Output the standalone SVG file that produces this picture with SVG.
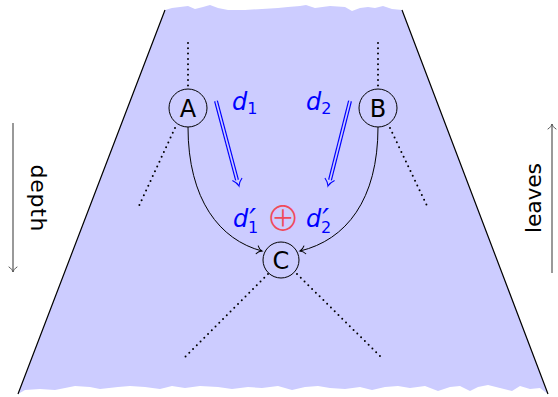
<svg xmlns="http://www.w3.org/2000/svg" width="558" height="397" viewBox="0 0 558 397">
<defs>
<marker id="to" markerUnits="userSpaceOnUse" orient="auto" refX="0" refY="0" markerWidth="12" markerHeight="12" viewBox="-8 -6 10 12" overflow="visible">
<path d="M-5,-4 C-3.5,-1.5 -1.5,-0.5 0,0 C-1.5,0.5 -3.5,1.5 -5,4" fill="none" stroke="#000" stroke-width="1" stroke-linecap="round"/>
</marker>
<marker id="tog" markerUnits="userSpaceOnUse" orient="auto" refX="0" refY="0" markerWidth="12" markerHeight="12" viewBox="-8 -6 10 12" overflow="visible">
<path d="M-5,-4 C-3.5,-1.5 -1.5,-0.5 0,0 C-1.5,0.5 -3.5,1.5 -5,4" fill="none" stroke="#555" stroke-width="1" stroke-linecap="round"/>
</marker>
</defs>
<style>
.node circle{fill:#ccccff;stroke:#000;stroke-width:1}
.node text{font-family:"DejaVu Sans",sans-serif;font-size:24px;text-anchor:middle;fill:#000}
.dot{fill:none;stroke:#000;stroke-width:2;stroke-linecap:round;stroke-dasharray:0 5.3}
.edge{fill:none;stroke:#000;stroke-width:1}
.lbl{font-family:"DejaVu Sans",sans-serif;font-style:italic;fill:#0000ff;font-size:24px}
.sub{font-style:normal;font-size:16px}
.pr{font-size:30px}
.dblo{fill:none;stroke:#0000ff;stroke-width:4}
.dbli{fill:none;stroke:#ccccff;stroke-width:1.6}
.side{font-family:"DejaVu Sans",sans-serif;font-size:22px;fill:#000;text-anchor:middle}
</style>
<rect width="558" height="397" fill="#fff"/>
<g id="tree">
<polygon fill="#ccccff" points="165,10 172,8 180,7 188,6 195,9 203,7 210,5 218,8 228,10 245,10 262,9 278,8 288,7 300,6 306,5 315,8 330,6 345,7 352,11 360,8 368,7 375,8 383,6 392,9 402,10 548,394 540,388 530,389 520,386 512,391 500,388 488,385 478,387 470,391 460,386 450,387 438,391 425,386 410,388 398,386 385,387 372,390 360,387 345,389 330,388 318,386 305,387 292,390 278,386 262,388 248,387 232,389 218,387 200,386 185,388 172,386 160,389 145,387 130,386 118,387 100,389 90,387 75,386 65,388 55,390 40,389 25,390 18,394"/>
<path d="M165,10 L18,394 M402,10 L548,394" stroke="#000" stroke-width="1.2" fill="none"/>
</g>
<g id="connectors">
<path class="dot" d="M188,43 L188,88"/>
<path class="dot" d="M378,43 L378,88"/>
<path class="dot" d="M175,128 L138,208"/>
<path class="dot" d="M390,128 L428,208"/>
<path class="dot" d="M268,274 L184,358"/>
<path class="dot" d="M297,274 L382,358"/>
<path class="edge" d="M188,127 C188,200 220,240 262,251" marker-end="url(#to)"/>
<path class="edge" d="M378,127 C378,200 346,240 300,251" marker-end="url(#to)"/>
<path class="dblo" d="M216,101 L237,180"/>
<path class="dbli" d="M216,101 L237,180"/>
<path class="dblo" d="M350,101 L330,180"/>
<path class="dbli" d="M350,101 L330,180"/>
<g transform="translate(239,186) rotate(75.3)"><path d="M-7,-5 C-4.5,-2 -2,-0.6 0,0 C-2,0.6 -4.5,2 -7,5" fill="none" stroke="#0000ff" stroke-width="1.1"/></g>
<g transform="translate(328,186) rotate(104.5)"><path d="M-7,-5 C-4.5,-2 -2,-0.6 0,0 C-2,0.6 -4.5,2 -7,5" fill="none" stroke="#0000ff" stroke-width="1.1"/></g>
<path d="M13,123 L13,272" stroke="#555" stroke-width="1.2" marker-end="url(#tog)"/>
<path d="M552,273 L552,124" stroke="#555" stroke-width="1.2" marker-end="url(#tog)"/>
</g>
<g id="A" class="node"><circle cx="188" cy="108" r="19"/><text x="188" y="117">A</text></g>
<g id="B" class="node"><circle cx="378" cy="108" r="19"/><text x="378" y="117">B</text></g>
<g id="C" class="node"><circle cx="281" cy="260" r="18"/><text x="281" y="269">C</text></g>
<g id="labels">
<text class="lbl" x="233" y="227">d<tspan class="pr" dx="1" dy="3">′</tspan><tspan class="sub" dx="-8" dy="3">1</tspan></text>
<text class="lbl" x="306" y="227">d<tspan class="pr" dx="1" dy="3">′</tspan><tspan class="sub" dx="-8" dy="3">2</tspan></text>
<text class="lbl" x="232" y="110">d<tspan class="sub" dy="4">1</tspan></text>
<text class="lbl" x="306" y="110">d<tspan class="sub" dy="4">2</tspan></text>
<text x="283" y="231" font-family="'Noto Sans CJK SC',sans-serif" font-size="34" font-weight="300" fill="#f04a5a" text-anchor="middle">⊕</text>
<text class="side" transform="translate(31,198) rotate(90)" textLength="67">depth</text>
<text class="side" transform="translate(541,198) rotate(-90)" textLength="70">leaves</text>
</g>
</svg>
